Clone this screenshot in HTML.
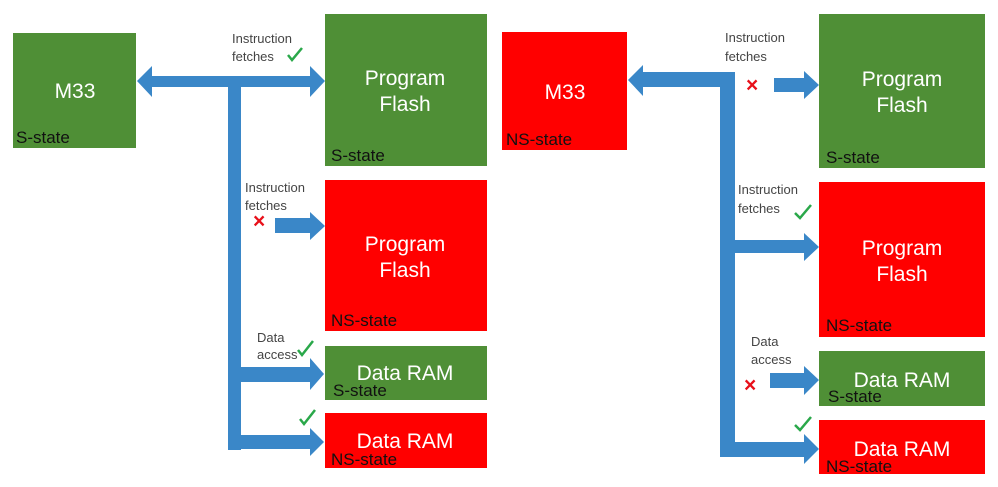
<!DOCTYPE html>
<html><head><meta charset="utf-8"><style>
html,body{margin:0;padding:0;background:#fff;}
svg{display:block;font-family:"Liberation Sans",Arial,sans-serif;}
.w{fill:#fff;font-size:21px;text-anchor:middle;}
.s{fill:#111;font-size:17px;}
.l{fill:#444;font-size:13px;}
.ok{fill:none;stroke:#2aa84a;stroke-width:2.5;}
.x{fill:#e8101a;font-size:21px;font-weight:bold;}
</style></head><body>
<svg width="998" height="487" viewBox="0 0 998 487" xmlns="http://www.w3.org/2000/svg">
<g fill="#3a87c8">
<polygon points="137,81 152,66 152,76 310,76 310,66 325,81 310,97 310,87 152,87 152,97"/>
<rect x="228" y="76" width="13" height="374"/>
<polygon points="228,367 310,367 310,358 324,374 310,390 310,382 228,382"/>
<polygon points="228,435 310,435 310,428 324,442 310,456 310,449 228,449"/>
<polygon points="275,218 310,218 310,212 325,226 310,240 310,233 275,233"/>
<polygon points="628,80 643,65 643,72 735,72 735,87 643,87 643,96"/>
<rect x="720" y="72" width="15" height="385"/>
<polygon points="720,240 804,240 804,233 819,247 804,261 804,253 720,253"/>
<polygon points="720,442 804,442 804,434 819,449 804,464 804,457 720,457"/>
<polygon points="774,78 804,78 804,71 819,85 804,99 804,92 774,92"/>
<polygon points="770,373 804,373 804,366 819,380 804,395 804,388 770,388"/>
</g>
<rect x="13" y="33" width="123" height="115" fill="#4f8f36"/>
<text class="w" x="75" y="98">M33</text><text class="s" x="16" y="143">S-state</text>
<rect x="325" y="14" width="162" height="152" fill="#4f8f36"/>
<text class="w" x="405" y="85">Program</text><text class="w" x="405" y="111">Flash</text><text class="s" x="331" y="161">S-state</text>
<rect x="325" y="180" width="162" height="151" fill="#ff0000"/>
<text class="w" x="405" y="251">Program</text><text class="w" x="405" y="277">Flash</text><text class="s" x="331" y="326">NS-state</text>
<rect x="325" y="346" width="162" height="54" fill="#4f8f36"/>
<text class="w" x="405" y="380">Data RAM</text><text class="s" x="333" y="396">S-state</text>
<rect x="325" y="413" width="162" height="55" fill="#ff0000"/>
<text class="w" x="405" y="448">Data RAM</text><text class="s" x="331" y="465">NS-state</text>
<rect x="502" y="32" width="125" height="118" fill="#ff0000"/>
<text class="w" x="565" y="99">M33</text><text class="s" x="506" y="145">NS-state</text>
<rect x="819" y="14" width="166" height="154" fill="#4f8f36"/>
<text class="w" x="902" y="86">Program</text><text class="w" x="902" y="112">Flash</text><text class="s" x="826" y="163">S-state</text>
<rect x="819" y="182" width="166" height="155" fill="#ff0000"/>
<text class="w" x="902" y="255">Program</text><text class="w" x="902" y="281">Flash</text><text class="s" x="826" y="331">NS-state</text>
<rect x="819" y="351" width="166" height="55" fill="#4f8f36"/>
<text class="w" x="902" y="387">Data RAM</text><text class="s" x="828" y="402">S-state</text>
<rect x="819" y="420" width="166" height="54" fill="#ff0000"/>
<text class="w" x="902" y="456">Data RAM</text><text class="s" x="826" y="472">NS-state</text>
<text class="l" x="232" y="43">Instruction</text><text class="l" x="232" y="61">fetches</text>
<path class="ok" d="M288,55 L292,60 L302,48"/>
<text class="l" x="245" y="192">Instruction</text><text class="l" x="245" y="210">fetches</text>
<text class="x" x="253" y="228">×</text>
<text class="l" x="257" y="342">Data</text><text class="l" x="257" y="359">access</text>
<path class="ok" d="M298,350 L302,355 L313,341"/>
<path class="ok" d="M300,419 L304,424 L315,410"/>
<text class="l" x="725" y="42">Instruction</text><text class="l" x="725" y="61">fetches</text>
<text class="x" x="746" y="92">×</text>
<text class="l" x="738" y="194">Instruction</text><text class="l" x="738" y="213">fetches</text>
<path class="ok" d="M795,213 L800,218 L811,205"/>
<text class="l" x="751" y="346">Data</text><text class="l" x="751" y="364">access</text>
<text class="x" x="744" y="392">×</text>
<path class="ok" d="M795,425 L800,430 L811,417"/>
</svg>
</body></html>
